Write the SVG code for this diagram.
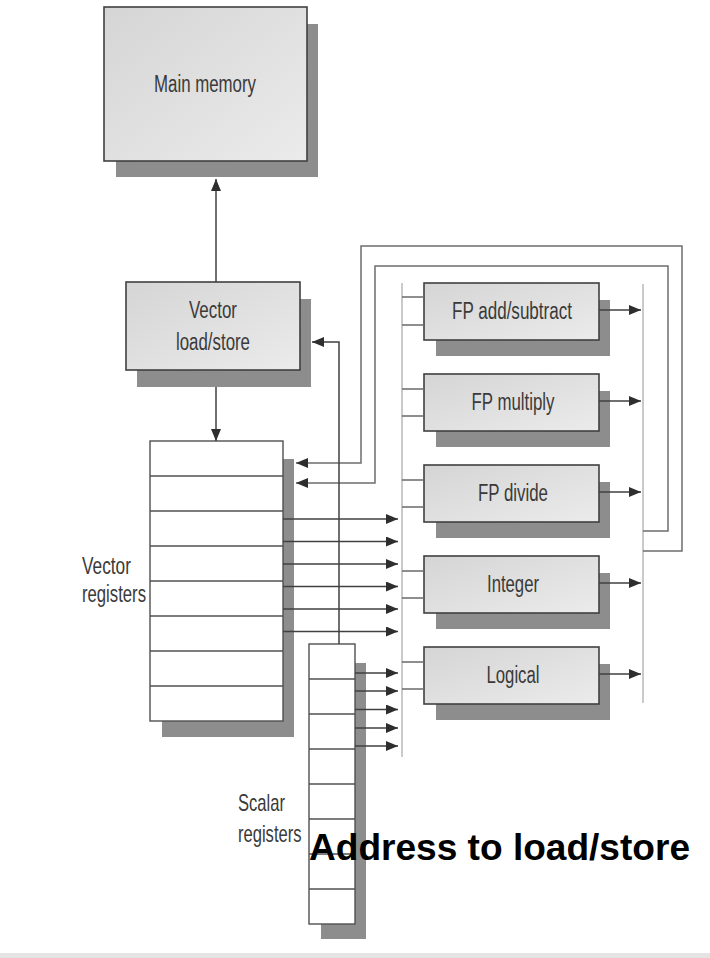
<svg xmlns="http://www.w3.org/2000/svg" width="710" height="958" viewBox="0 0 710 958">
<defs>
<linearGradient id="boxg" x1="0" y1="0" x2="1" y2="1">
<stop offset="0" stop-color="#d5d5d5"/>
<stop offset="1" stop-color="#ebebeb"/>
</linearGradient>
<marker id="ah" markerUnits="userSpaceOnUse" markerWidth="13" markerHeight="11" refX="12" refY="5" orient="auto">
<path d="M0,0 L12,5 L0,10 z" fill="#2e2e2e"/>
</marker>
</defs>
<style>
.shadow{fill:#8d8d8d}
.box{fill:url(#boxg);stroke:#404040;stroke-width:1.6}
.reg{fill:#ffffff;stroke:#505050;stroke-width:1.4}
.row{stroke:#505050;stroke-width:1.4}
.lbl{font-family:"Liberation Sans",Arial,sans-serif;font-size:23px;fill:#3a3a3a}
.mid{text-anchor:middle}
.bus{stroke:#bdbdbd;stroke-width:1.6;fill:none}
.stub{stroke:#6a6a6a;stroke-width:1.4;fill:none}
.conn{stroke:#404040;stroke-width:1.5;fill:none}
.loop{stroke:#6e6e6e;stroke-width:1.5;fill:none}
.arr{marker-end:url(#ah)}
.big{font-family:"Liberation Sans",Arial,sans-serif;font-size:37px;font-weight:bold;fill:#000}
</style>
<rect x="0" y="0" width="710" height="958" fill="#ffffff"/>
<rect x="0" y="953" width="710" height="5" fill="#e4e4e4"/>

<g id="main-memory">
<rect class="shadow" x="116" y="24" width="202" height="153"/>
<rect class="box" x="104" y="7" width="203" height="154"/>
<text class="lbl mid" x="205" y="92" textLength="102" lengthAdjust="spacingAndGlyphs">Main memory</text>
</g>

<g id="vector-load-store">
<rect class="shadow" x="137" y="299" width="174" height="88"/>
<rect class="box" x="126" y="282" width="174" height="88"/>
<text class="lbl mid" x="213" y="318" textLength="48" lengthAdjust="spacingAndGlyphs">Vector</text>
<text class="lbl mid" x="213" y="350" textLength="74" lengthAdjust="spacingAndGlyphs">load/store</text>
</g>

<g id="vector-registers">
<rect class="shadow" x="162" y="459" width="132" height="278"/>
<rect class="reg" x="150" y="441" width="133" height="280"/>
<line class="row" x1="150" y1="476" x2="283" y2="476"/>
<line class="row" x1="150" y1="511" x2="283" y2="511"/>
<line class="row" x1="150" y1="546" x2="283" y2="546"/>
<line class="row" x1="150" y1="581" x2="283" y2="581"/>
<line class="row" x1="150" y1="616" x2="283" y2="616"/>
<line class="row" x1="150" y1="651" x2="283" y2="651"/>
<line class="row" x1="150" y1="686" x2="283" y2="686"/>
<text class="lbl" x="82" y="574" textLength="49" lengthAdjust="spacingAndGlyphs">Vector</text>
<text class="lbl" x="82" y="602" textLength="64" lengthAdjust="spacingAndGlyphs">registers</text>
</g>

<g id="scalar-registers">
<rect class="shadow" x="321" y="663" width="45" height="276"/>
<rect class="reg" x="309" y="644" width="46" height="280"/>
<line class="row" x1="309" y1="679" x2="355" y2="679"/>
<line class="row" x1="309" y1="714" x2="355" y2="714"/>
<line class="row" x1="309" y1="749" x2="355" y2="749"/>
<line class="row" x1="309" y1="784" x2="355" y2="784"/>
<line class="row" x1="309" y1="819" x2="355" y2="819"/>
<line class="row" x1="309" y1="854" x2="355" y2="854"/>
<line class="row" x1="309" y1="889" x2="355" y2="889"/>
<text class="lbl" transform="translate(238,811) scale(0.72,1)" x="0" y="0">Scalar</text>
<text class="lbl" transform="translate(238,842) scale(0.72,1)" x="0" y="0">registers</text>
</g>

<g id="fp-add-subtract">
<rect class="shadow" x="436" y="300" width="174" height="56"/>
<rect class="box" x="424" y="283" width="175" height="57"/>
<text class="lbl mid" x="512" y="319" textLength="120" lengthAdjust="spacingAndGlyphs">FP add/subtract</text>
</g>

<g id="fp-multiply">
<rect class="shadow" x="436" y="391" width="174" height="56"/>
<rect class="box" x="424" y="374" width="175" height="57"/>
<text class="lbl mid" x="513" y="410" textLength="83" lengthAdjust="spacingAndGlyphs">FP multiply</text>
</g>

<g id="fp-divide">
<rect class="shadow" x="436" y="482" width="174" height="56"/>
<rect class="box" x="424" y="465" width="175" height="57"/>
<text class="lbl mid" x="513" y="501" textLength="70" lengthAdjust="spacingAndGlyphs">FP divide</text>
</g>

<g id="integer">
<rect class="shadow" x="436" y="573" width="174" height="56"/>
<rect class="box" x="424" y="556" width="175" height="57"/>
<text class="lbl mid" x="513" y="592" textLength="52" lengthAdjust="spacingAndGlyphs">Integer</text>
</g>

<g id="logical">
<rect class="shadow" x="436" y="664" width="174" height="56"/>
<rect class="box" x="424" y="647" width="175" height="57"/>
<text class="lbl mid" x="513" y="683" textLength="53" lengthAdjust="spacingAndGlyphs">Logical</text>
</g>

<g id="connectors">
<line class="bus" x1="402" y1="283" x2="402" y2="757"/>
<line class="bus" x1="643" y1="284" x2="643" y2="703"/>
<path class="stub" d="M402,297H424M402,325H424M402,389H424M402,416H424M402,480H424M402,507H424M402,571H424M402,598H424M402,662H424M402,689H424"/>
<line class="conn arr" x1="599" y1="310" x2="641" y2="310"/>
<line class="conn arr" x1="599" y1="401" x2="641" y2="401"/>
<line class="conn arr" x1="599" y1="492" x2="641" y2="492"/>
<line class="conn arr" x1="599" y1="583" x2="641" y2="583"/>
<line class="conn arr" x1="599" y1="674" x2="641" y2="674"/>
<polyline class="loop arr" points="643,551 682,551 682,246 361,246 361,463 296,463"/>
<polyline class="loop arr" points="643,531 668,531 668,266 375,266 375,483 296,483"/>
<line class="conn arr" x1="216" y1="282" x2="216" y2="179"/>
<line class="conn arr" x1="216" y1="387" x2="216" y2="441"/>
<polyline class="conn arr" points="339,644 339,342 312,342"/>
<line class="conn arr" x1="283" y1="519" x2="398" y2="519"/>
<line class="conn arr" x1="283" y1="541.5" x2="398" y2="541.5"/>
<line class="conn arr" x1="283" y1="564" x2="398" y2="564"/>
<line class="conn arr" x1="283" y1="586.5" x2="398" y2="586.5"/>
<line class="conn arr" x1="283" y1="609" x2="398" y2="609"/>
<line class="conn arr" x1="283" y1="631.5" x2="398" y2="631.5"/>
<line class="conn arr" x1="355" y1="673" x2="398" y2="673"/>
<line class="conn arr" x1="355" y1="691" x2="398" y2="691"/>
<line class="conn arr" x1="355" y1="709.5" x2="398" y2="709.5"/>
<line class="conn arr" x1="355" y1="728" x2="398" y2="728"/>
<line class="conn arr" x1="355" y1="746" x2="398" y2="746"/>
</g>

<text class="big" x="309" y="860" textLength="381" lengthAdjust="spacingAndGlyphs">Address to load/store</text>
</svg>
